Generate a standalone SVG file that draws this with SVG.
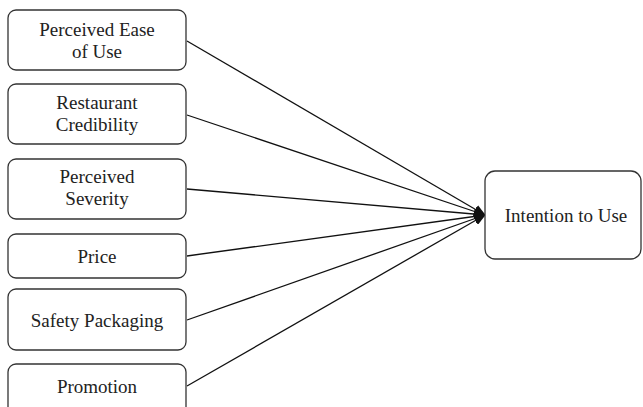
<svg xmlns="http://www.w3.org/2000/svg" width="643" height="407" viewBox="0 0 643 407">
<style>
.box{fill:#fff;stroke:#333;stroke-width:1.3}
.t{font-size:19px;fill:#222;text-anchor:middle}
.c{stroke:#111;stroke-width:1.3;fill:none;marker-end:url(#ah)}
</style>
<defs>
<marker id="ah" markerWidth="12" markerHeight="10" refX="11" refY="5" orient="auto" markerUnits="userSpaceOnUse">
<path d="M0,0 L12,5 L0,10 z" fill="#111"/>
</marker>
</defs>
<rect width="643" height="407" fill="#fff"/>
<g id="connectors">
<line class="c" x1="187" y1="41" x2="485" y2="215"/>
<line class="c" x1="187" y1="115" x2="485" y2="215"/>
<line class="c" x1="187" y1="189" x2="485" y2="215"/>
<line class="c" x1="187" y1="256" x2="485" y2="215"/>
<line class="c" x1="187" y1="320" x2="485" y2="215"/>
<line class="c" x1="187" y1="386" x2="485" y2="215"/>
</g>
<g font-family="Liberation Serif, Times New Roman, serif">
<g id="n1"><rect class="box" x="8" y="10" width="178" height="60" rx="8"/><text class="t" x="97" y="36">Perceived Ease</text><text class="t" x="97" y="58">of Use</text></g>
<g id="n2"><rect class="box" x="8" y="84" width="178" height="60" rx="8"/><text class="t" x="97" y="109">Restaurant</text><text class="t" x="97" y="131">Credibility</text></g>
<g id="n3"><rect class="box" x="8" y="159" width="178" height="60" rx="8"/><text class="t" x="97" y="183">Perceived</text><text class="t" x="97" y="205">Severity</text></g>
<g id="n4"><rect class="box" x="8" y="234" width="178" height="44" rx="8"/><text class="t" x="97" y="263">Price</text></g>
<g id="n5"><rect class="box" x="8" y="289" width="178" height="61" rx="8"/><text class="t" x="97" y="327">Safety Packaging</text></g>
<g id="n6"><rect class="box" x="8" y="364" width="178" height="60" rx="8"/><text class="t" x="97" y="393">Promotion</text></g>
<g id="n7"><rect class="box" x="485" y="171" width="156" height="88" rx="10"/><text class="t" x="566" y="222">Intention to Use</text></g>
</g>
</svg>
